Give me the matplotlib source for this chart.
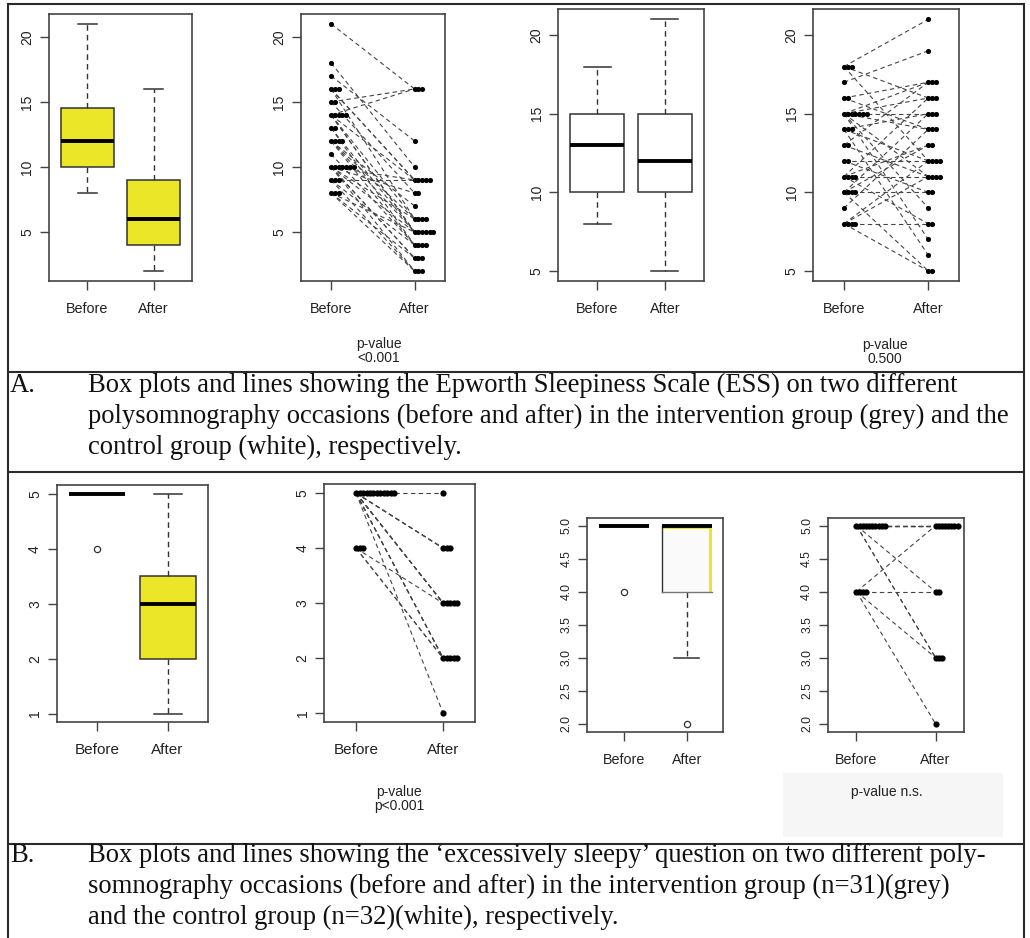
import matplotlib
matplotlib.use("Agg")
import matplotlib.pyplot as plt
from matplotlib.patches import Rectangle

# ---------------- data ----------------
groups = ["Before", "After"]

# Panel A (ESS) box-plot summaries: [lower whisker, Q1, median, Q3, upper whisker]
ess_int_box_before = [8, 10, 12, 14.5, 21]
ess_int_box_after = [2, 4, 6, 9, 16]
ess_ctl_box_before = [8, 10, 13, 15, 18]
ess_ctl_box_after = [5, 10, 12, 15, 21]

# Panel A paired values (intervention)
ess_int_before = [21, 15, 14, 17, 18, 16, 16, 16, 15, 14, 14, 14, 14, 13, 13, 12, 12,
                  12, 12, 11, 10, 10, 10, 10, 10, 10, 10, 9, 9, 9, 8, 8, 8]
ess_int_after = [16, 16, 16, 12, 10, 9, 9, 6, 8, 9, 5, 5, 6, 5, 4, 7, 6,
                 5, 4, 4, 9, 8, 6, 5, 3, 3, 2, 9, 4, 2, 5, 3, 2]
# Panel A paired values (control)
ess_ctl_before = [18, 18, 18, 17, 16, 16, 15, 15, 15, 15, 15, 15, 15, 14, 14, 14, 13,
                  13, 12, 12, 11, 11, 11, 11, 10, 10, 10, 10, 9, 8, 8, 8, 8]
ess_ctl_after = [21, 16, 12, 19, 17, 14, 17, 16, 15, 14, 11, 9, 7, 15, 12, 6, 17,
                 11, 12, 10, 16, 13, 11, 8, 15, 13, 10, 5, 14, 12, 11, 8, 5]

# Panel B ('excessively sleepy') box-plot summaries and outliers
sleepy_int_box_before = [5, 5, 5, 5, 5]
sleepy_int_out_before = [4]
sleepy_int_box_after = [1, 2, 3, 3.5, 5]
sleepy_int_out_after = []
sleepy_ctl_box_before = [5, 5, 5, 5, 5]
sleepy_ctl_out_before = [4]
sleepy_ctl_box_after = [3, 4, 5, 5, 5]
sleepy_ctl_out_after = [2]

# Panel B paired values
sleepy_int_before = [5, 5, 5, 5, 5, 5, 5, 5, 5, 5, 5, 5, 4, 4, 4]
sleepy_int_after = [5, 4, 4, 4, 3, 3, 3, 3, 2, 2, 2, 1, 3, 2, 2]
sleepy_ctl_before = [5, 5, 5, 5, 5, 5, 5, 5, 5, 5, 4, 4, 4, 4]
sleepy_ctl_after = [5, 5, 5, 5, 5, 5, 5, 4, 3, 3, 5, 4, 3, 2]

p_text_a_int = "p-value\n<0.001"
p_text_a_ctl = "p-value\n0.500"
p_text_b_int = "p-value\np<0.001"
p_text_b_ctl = "p-value n.s."

caption_a = ["Box plots and lines showing the Epworth Sleepiness Scale (ESS) on two different",
             "polysomnography occasions (before and after) in the intervention group (grey) and the",
             "control group (white), respectively."]
caption_b = ["Box plots and lines showing the \u2018excessively sleepy\u2019 question on two different poly-",
             "somnography occasions (before and after) in the intervention group (n=31)(grey)",
             "and the control group (n=32)(white), respectively."]

# ---------------- style ----------------
W, H = 1030, 938
YELLOW = "#EBE628"
DARK = "#333333"
SANS = "Liberation Sans"
SERIF = "Liberation Serif"

fig = plt.figure(figsize=(W / 100, H / 100), dpi=100)

# background axes in pixel coordinates for the table frame
bg = fig.add_axes([0, 0, 1, 1], zorder=-5)
bg.set_xlim(0, W)
bg.set_ylim(H, 0)
bg.axis("off")
lc = "#2a2a2a"
for yy in [4.5, 372, 472, 844]:
    bg.plot([8, 1024], [yy, yy], color=lc, lw=1.5, solid_capstyle="butt")
bg.plot([8, 8], [4, H], color=lc, lw=1.5)
bg.plot([1024, 1024], [4, H], color=lc, lw=1.5)
bg.add_patch(Rectangle((783, 773), 220, 64, facecolor="#F6F6F6", edgecolor="none"))


def ax_at(l, t, r, b):
    return fig.add_axes([l / W, 1 - b / H, (r - l) / W, (b - t) / H])


def r_ylim(ax, values):
    lo, hi = min(values), max(values)
    pad = 0.04 * (hi - lo)
    ax.set_ylim(lo - pad, hi + pad)


def style(ax, yticks, yfmt, ysize, xsize):
    ax.set_xticks([1, 2])
    ax.set_xticklabels(groups, fontsize=xsize, color="#222222", family=SANS)
    ax.set_yticks(yticks)
    ax.set_yticklabels([yfmt.format(v) for v in yticks], rotation=90, va="center",
                       fontsize=ysize, color="#222222", family=SANS)
    ax.tick_params(axis="both", length=6.5, width=1.0, color="#444444")
    ax.tick_params(axis="x", pad=8.5)
    ax.tick_params(axis="y", pad=4)
    for s in ax.spines.values():
        s.set_color("#444444")
        s.set_linewidth(1.2)


def draw_boxes(ax, boxes, outs, colors, capw):
    stats = []
    for b, o in zip(boxes, outs):
        stats.append(dict(whislo=b[0], q1=b[1], med=b[2], q3=b[3], whishi=b[4], fliers=o))
    res = ax.bxp(stats, positions=[1, 2], widths=0.8, patch_artist=True,
                 capwidths=capw, manage_ticks=False,
                 boxprops=dict(edgecolor=DARK, linewidth=1.1),
                 whiskerprops=dict(color=DARK, linestyle=(0, (4, 3)), linewidth=1.0),
                 capprops=dict(color=DARK, linewidth=1.1),
                 medianprops=dict(color="black", linewidth=2.8, solid_capstyle="butt", zorder=4),
                 flierprops=dict(marker="o", markerfacecolor="none", markeredgecolor=DARK,
                                 markersize=4.5, markeredgewidth=0.9))
    for patch, c in zip(res["boxes"], colors):
        patch.set_facecolor(c)
    ax.set_xlim(0.42, 2.58)
    return res


def stacked(values, base, step):
    seen = {}
    xs = []
    for v in values:
        k = seen.get(v, 0)
        xs.append(base + k * step)
        seen[v] = k + 1
    return xs


def draw_pairs(ax, before, after, step=0.045, ms=3.7):
    for y0, y1 in zip(before, after):
        ax.plot([1, 2], [y0, y1], color="#444444", lw=0.8, linestyle=(0, (4, 3)), zorder=2)
    xb = stacked(before, 1, step)
    xa = stacked(after, 2, step)
    ax.plot(xb, before, "o", color="black", markersize=ms, markeredgewidth=0, zorder=3)
    ax.plot(xa, after, "o", color="black", markersize=ms, markeredgewidth=0, zorder=3)
    ax.set_xlim(0.636, 2.364)


# ---------------- Panel A ----------------
a1 = ax_at(49, 14, 192, 281)
draw_boxes(a1, [ess_int_box_before, ess_int_box_after], [[], []], [YELLOW, YELLOW], [0.28, 0.28])
r_ylim(a1, ess_int_box_before + ess_int_box_after)
style(a1, [5, 10, 15, 20], "{:d}", 10, 10.4)

a2 = ax_at(300.7, 14, 445, 281)
draw_pairs(a2, ess_int_before, ess_int_after)
r_ylim(a2, ess_int_before + ess_int_after)
style(a2, [5, 10, 15, 20], "{:d}", 10, 10.4)

a3 = ax_at(558.3, 9.3, 704, 281)
draw_boxes(a3, [ess_ctl_box_before, ess_ctl_box_after], [[], []], ["white", "white"], [0.4, 0.4])
r_ylim(a3, ess_ctl_box_before + ess_ctl_box_after)
style(a3, [5, 10, 15, 20], "{:d}", 10, 10.4)

a4 = ax_at(813.3, 9.3, 959, 281)
draw_pairs(a4, ess_ctl_before, ess_ctl_after)
r_ylim(a4, ess_ctl_before + ess_ctl_after)
style(a4, [5, 10, 15, 20], "{:d}", 10, 10.4)

# ---------------- Panel B ----------------
b1 = ax_at(56.7, 485, 208.3, 722.3)
draw_boxes(b1, [sleepy_int_box_before, sleepy_int_box_after],
           [sleepy_int_out_before, sleepy_int_out_after], [YELLOW, YELLOW], [0.4, 0.4])
r_ylim(b1, sleepy_int_box_before + sleepy_int_box_after + sleepy_int_out_before)
style(b1, [1, 2, 3, 4, 5], "{:d}", 10, 11)

b2 = ax_at(324.3, 484.3, 475, 722.3)
draw_pairs(b2, sleepy_int_before, sleepy_int_after, step=0.04, ms=4.5)
r_ylim(b2, sleepy_int_before + sleepy_int_after)
style(b2, [1, 2, 3, 4, 5], "{:d}", 10, 11)

b3 = ax_at(587.3, 517.7, 723.3, 731.7)
res = draw_boxes(b3, [sleepy_ctl_box_before, sleepy_ctl_box_after],
                 [sleepy_ctl_out_before, sleepy_ctl_out_after], ["white", YELLOW], [0.4, 0.4])
# the 'After' box of the control group: white fill over a yellow box
q1, q3 = sleepy_ctl_box_after[1], sleepy_ctl_box_after[3]
res["boxes"][1].set_edgecolor("none")
b3.add_patch(Rectangle((1.6, q1), 0.8 - 0.04, (q3 - q1) - 0.05, facecolor="#FAFAFA",
                       edgecolor="none", zorder=2.5))
b3.plot([1.6, 1.6], [q1, q3], color=DARK, lw=1.0, zorder=3)
b3.plot([1.6, 2.4], [q1, q1], color="#777777", lw=1.0, zorder=3)
r_ylim(b3, sleepy_ctl_box_before + sleepy_ctl_box_after + sleepy_ctl_out_after)
style(b3, [2.0, 2.5, 3.0, 3.5, 4.0, 4.5, 5.0], "{:.1f}", 8.8, 10.3)

b4 = ax_at(827.7, 517.7, 964.3, 731.7)
draw_pairs(b4, sleepy_ctl_before, sleepy_ctl_after, step=0.04, ms=4.5)
r_ylim(b4, sleepy_ctl_before + sleepy_ctl_after)
style(b4, [2.0, 2.5, 3.0, 3.5, 4.0, 4.5, 5.0], "{:.1f}", 8.8, 10.3)

# ---------------- p-values ----------------
pkw = dict(ha="center", va="center", fontsize=10, family=SANS, color="#222222",
           linespacing=1.05)
fig.text(379 / W, 1 - 351 / H, p_text_a_int, **pkw)
fig.text(885 / W, 1 - 352 / H, p_text_a_ctl, **pkw)
fig.text(399 / W, 1 - 799 / H, p_text_b_int, **pkw)
fig.text(887 / W, 1 - 792 / H, p_text_b_ctl, **pkw)

# ---------------- captions ----------------
ckw = dict(ha="left", va="center", fontsize=19.2, family=SERIF, color="#111111")
fig.text(10 / W, 1 - 385 / H, "A.", **ckw)
for i, line in enumerate(caption_a):
    fig.text(88 / W, 1 - (385 + 31 * i) / H, line, **ckw)
fig.text(10 / W, 1 - 855 / H, "B.", **ckw)
for i, line in enumerate(caption_b):
    fig.text(88 / W, 1 - (855 + 31 * i) / H, line, **ckw)

fig.savefig("out.png", dpi=100)
